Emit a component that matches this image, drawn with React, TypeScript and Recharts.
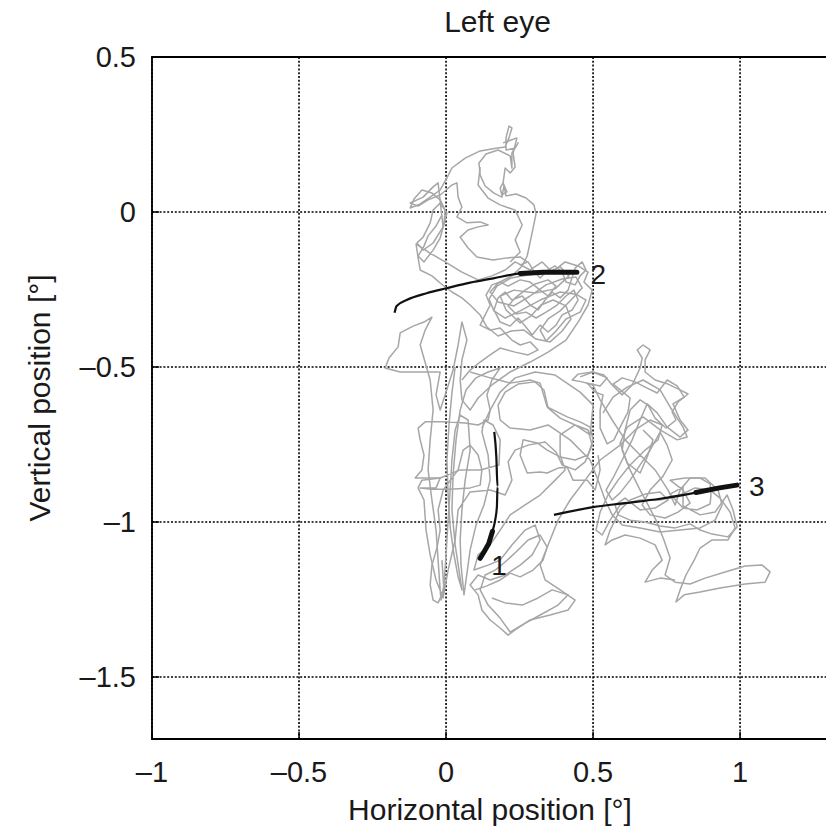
import React from 'react';
import {
  ComposedChart,
  Line,
  Scatter,
  XAxis,
  YAxis,
  CartesianGrid,
  ReferenceArea,
} from 'recharts';

// Axis setup (degrees)
const xTicks = [-1, -0.5, 0, 0.5, 1];
const yTicks = [-1.5, -1, -0.5, 0, 0.5];
const xDomain: [number, number] = [-1, 1.35];
const yDomain: [number, number] = [-1.7, 0.5];

// Fixational drift of the left eye, [horizontal, vertical] in degrees.
// Main recording trace
const driftMain: [number, number][] = [
  [-0.014, -0.01], [-0.034, -0.045], [-0.061, -0.077], [-0.075, -0.11], [-0.095, -0.142],
  [-0.075, -0.161], [-0.044, -0.123], [-0.02, -0.084], [-0.007, -0.039], [-0.003, 0.006],
  [-0.02, 0.039], [-0.048, 0.061], [-0.082, 0.071], [-0.109, 0.042], [-0.122, 0.013],
  [-0.088, 0.026], [-0.054, 0.048], [-0.02, 0.071], [0.003, 0.11], [0.02, 0.142],
  [0.065, 0.174], [0.116, 0.197], [0.17, 0.206], [0.201, 0.21], [0.214, 0.239],
  [0.224, 0.271], [0.214, 0.277], [0.204, 0.239], [0.204, 0.2], [0.235, 0.206],
  [0.245, 0.223], [0.224, 0.19], [0.224, 0.142], [0.218, 0.181], [0.177, 0.2],
  [0.136, 0.187], [0.112, 0.158], [0.116, 0.119], [0.133, 0.084], [0.163, 0.061],
  [0.19, 0.048], [0.197, 0.084], [0.204, 0.052], [0.238, 0.058], [0.272, 0.045],
  [0.299, 0.023], [0.306, -0.006], [0.296, -0.052], [0.286, -0.097], [0.276, -0.142],
  [0.259, -0.174], [0.224, -0.206], [0.177, -0.229], [0.15, -0.258], [0.177, -0.29],
  [0.231, -0.303], [0.286, -0.271], [0.34, -0.235], [0.395, -0.216], [0.442, -0.21],
  [0.463, -0.245], [0.425, -0.284], [0.388, -0.319], [0.347, -0.345], [0.32, -0.381],
  [0.34, -0.416], [0.374, -0.384], [0.408, -0.345], [0.456, -0.323], [0.476, -0.284],
  [0.442, -0.265], [0.388, -0.258], [0.32, -0.284], [0.252, -0.319], [0.201, -0.342],
  [0.163, -0.319], [0.146, -0.281], [0.173, -0.239], [0.221, -0.213], [0.279, -0.203],
  [0.337, -0.197], [0.388, -0.177], [0.418, -0.206], [0.371, -0.248], [0.303, -0.261],
  [0.231, -0.252], [0.184, -0.271], [0.204, -0.316], [0.252, -0.358], [0.289, -0.335],
  [0.323, -0.3], [0.364, -0.284], [0.408, -0.303], [0.425, -0.345], [0.395, -0.384],
  [0.354, -0.419], [0.306, -0.41], [0.265, -0.381], [0.221, -0.384], [0.177, -0.4],
  [0.139, -0.371], [0.116, -0.332], [0.082, -0.3], [0.054, -0.277], [0.02, -0.258],
  [-0.02, -0.229], [-0.048, -0.206], [-0.088, -0.187], [-0.095, -0.148], [-0.102, -0.103],
  [-0.061, -0.129], [-0.003, -0.161], [0.054, -0.194], [0.109, -0.219], [0.156, -0.206],
  [0.201, -0.187], [0.235, -0.161], [0.286, -0.187], [0.327, -0.161], [0.361, -0.194],
  [0.405, -0.161], [0.449, -0.174], [0.483, -0.194], [0.469, -0.226], [0.497, -0.252],
  [0.483, -0.3], [0.449, -0.355], [0.408, -0.413], [0.347, -0.452], [0.286, -0.484],
  [0.218, -0.516], [0.156, -0.558], [0.109, -0.6], [0.082, -0.639], [0.054, -0.606],
  [0.048, -0.542], [0.054, -0.477], [0.071, -0.413], [0.054, -0.355], [0.041, -0.429],
  [0.024, -0.51], [0.0, -0.581], [-0.02, -0.639], [-0.034, -0.59], [-0.02, -0.516],
  [-0.088, -0.516], [-0.156, -0.516], [-0.207, -0.503], [-0.194, -0.471], [-0.163, -0.435],
  [-0.156, -0.39], [-0.112, -0.368], [-0.075, -0.355], [-0.048, -0.339], [-0.071, -0.381],
  [-0.088, -0.429], [-0.054, -0.542], [-0.044, -0.639], [-0.054, -0.735], [-0.061, -0.832],
  [-0.048, -0.929], [-0.034, -1.026], [-0.027, -1.123], [-0.02, -1.219], [-0.017, -1.252],
  [-0.007, -1.203], [0.0, -1.106], [0.007, -0.994], [0.014, -0.897], [0.02, -0.8],
  [0.031, -0.703], [0.048, -0.655], [0.075, -0.671], [0.082, -0.768], [0.065, -0.865],
  [0.054, -0.961], [0.048, -1.058], [0.051, -1.139], [0.061, -1.235], [0.068, -1.187],
  [0.082, -1.09], [0.102, -1.01], [0.129, -0.945], [0.15, -0.865], [0.143, -0.784],
  [0.122, -0.71], [0.129, -0.671], [0.16, -0.687], [0.184, -0.735], [0.18, -0.816],
  [0.116, -0.832], [0.048, -0.832], [-0.02, -0.858], [-0.082, -0.865], [-0.095, -0.89],
  [-0.075, -0.929], [-0.068, -1.026], [-0.054, -1.106], [-0.034, -1.187], [-0.01, -1.245],
  [0.007, -1.155], [0.031, -1.058], [0.041, -0.961], [0.082, -0.903], [0.15, -0.897],
  [0.201, -0.913], [0.224, -0.865], [0.211, -0.806], [0.235, -0.768], [0.279, -0.752],
  [0.337, -0.742], [0.374, -0.774], [0.395, -0.816], [0.439, -0.832], [0.473, -0.806],
  [0.497, -0.752], [0.483, -0.703], [0.439, -0.687], [0.388, -0.665], [0.347, -0.632],
  [0.333, -0.574], [0.303, -0.548], [0.245, -0.555], [0.201, -0.581], [0.177, -0.623],
  [0.184, -0.671], [0.218, -0.697], [0.286, -0.703], [0.347, -0.687], [0.422, -0.735],
  [0.49, -0.8], [0.517, -0.865], [0.541, -0.929], [0.565, -0.977], [0.599, -1.01],
  [0.66, -1.019], [0.728, -1.032], [0.796, -1.026], [0.864, -1.019], [0.915, -0.994],
  [0.939, -0.945], [0.925, -0.897], [0.881, -0.858], [0.83, -0.858], [0.796, -0.897],
  [0.779, -0.945], [0.755, -0.897], [0.711, -0.832], [0.66, -0.784], [0.609, -0.735],
  [0.565, -0.671], [0.524, -0.606], [0.5, -0.558], [0.463, -0.548], [0.429, -0.542],
  [0.449, -0.523], [0.497, -0.516], [0.537, -0.526], [0.565, -0.558], [0.599, -0.59],
  [0.633, -0.558], [0.66, -0.503], [0.667, -0.471], [0.65, -0.445], [0.67, -0.429],
  [0.694, -0.445], [0.677, -0.477], [0.677, -0.516], [0.711, -0.542], [0.755, -0.555],
  [0.796, -0.574], [0.823, -0.587], [0.789, -0.613], [0.769, -0.645], [0.782, -0.671],
  [0.748, -0.697], [0.711, -0.665], [0.687, -0.623], [0.66, -0.606], [0.626, -0.639],
  [0.609, -0.703], [0.599, -0.768], [0.626, -0.832], [0.66, -0.897], [0.687, -0.945],
  [0.714, -0.994], [0.741, -1.058], [0.762, -1.116], [0.745, -1.171], [0.779, -1.194],
  [0.83, -1.2], [0.881, -1.181], [0.949, -1.161], [1.017, -1.142], [1.075, -1.139],
  [1.102, -1.161], [1.085, -1.194], [1.017, -1.2], [0.932, -1.213], [0.864, -1.226],
  [0.81, -1.235], [0.782, -1.258], [0.796, -1.219], [0.816, -1.171], [0.844, -1.123],
  [0.864, -1.084], [0.905, -1.058], [0.959, -1.058], [0.983, -1.019], [0.966, -0.968],
  [0.932, -0.923], [0.898, -0.897], [0.847, -0.89], [0.796, -0.913], [0.728, -0.929],
  [0.66, -0.929], [0.592, -0.945], [0.558, -0.994], [0.531, -1.042], [0.51, -1.026],
  [0.524, -0.968], [0.551, -0.913], [0.585, -0.865], [0.626, -0.816], [0.677, -0.768],
  [0.721, -0.735], [0.735, -0.687], [0.694, -0.671], [0.643, -0.703], [0.592, -0.752],
  [0.524, -0.8], [0.473, -0.865], [0.422, -0.929], [0.381, -0.994], [0.347, -1.074],
  [0.32, -1.139], [0.337, -1.187], [0.388, -1.219], [0.439, -1.252], [0.415, -1.284],
  [0.354, -1.3], [0.286, -1.316], [0.235, -1.348], [0.211, -1.365], [0.184, -1.342],
  [0.15, -1.316], [0.122, -1.284], [0.109, -1.235], [0.082, -1.203], [0.109, -1.171],
  [0.15, -1.187], [0.201, -1.171], [0.252, -1.139], [0.293, -1.106], [0.32, -1.058],
  [0.303, -1.01], [0.269, -1.026], [0.224, -1.074], [0.184, -1.123], [0.143, -1.139],
  [0.095, -1.155], [0.109, -1.106], [0.15, -1.074], [0.184, -1.026], [0.218, -0.977],
  [0.269, -0.945], [0.32, -0.913], [0.371, -0.865], [0.405, -0.832], [0.388, -0.784],
  [0.388, -0.719], [0.439, -0.687], [0.49, -0.719], [0.5, -0.623], [0.456, -0.581],
  [0.371, -0.526], [0.303, -0.516], [0.235, -0.535], [0.184, -0.581], [0.15, -0.639],
  [0.122, -0.697],
];

// Long left-hand vertical strands
const driftLeft: [number, number][] = [
  [0.031, -0.5], [0.02, -0.584], [0.01, -0.687], [0.003, -0.8], [0.007, -0.913],
  [0.014, -1.016], [0.027, -1.106], [0.041, -1.177], [0.054, -1.219], [0.044, -1.155],
  [0.031, -1.074], [0.02, -0.961], [0.024, -0.848], [0.034, -0.735], [0.048, -0.639],
  [0.068, -0.574], [0.102, -0.535], [0.143, -0.516], [0.184, -0.503], [0.156, -0.542],
  [0.139, -0.59], [0.15, -0.639], [0.143, -0.671], [0.109, -0.687], [0.065, -0.681],
  [-0.003, -0.677], [-0.071, -0.677], [-0.095, -0.697], [-0.088, -0.735], [-0.075, -0.784],
  [-0.082, -0.832], [-0.105, -0.858], [-0.061, -0.858], [-0.02, -0.858], [-0.034, -0.89],
  [-0.088, -0.89], [-0.048, -0.894], [0.014, -0.894], [0.082, -0.89], [0.116, -0.881],
  [0.122, -0.832], [0.109, -0.784], [0.082, -0.752], [0.058, -0.768], [0.041, -0.832],
  [-0.01, -0.897], [-0.027, -0.961], [-0.02, -1.026], [-0.031, -1.084], [-0.048, -1.139],
  [-0.054, -1.203], [-0.044, -1.252], [-0.027, -1.261], [-0.007, -1.219], [-0.014, -1.123],
];

// Dense wandering near the end of saccade 2
const driftCluster: [number, number][] = [
  [0.252, -0.171], [0.279, -0.161], [0.296, -0.187], [0.32, -0.213], [0.347, -0.187],
  [0.371, -0.174], [0.395, -0.194], [0.408, -0.226], [0.439, -0.235], [0.456, -0.206],
  [0.476, -0.187], [0.463, -0.161], [0.439, -0.181], [0.415, -0.252], [0.388, -0.277],
  [0.361, -0.258], [0.337, -0.284], [0.313, -0.316], [0.286, -0.3], [0.259, -0.271],
  [0.224, -0.284], [0.201, -0.258], [0.177, -0.277], [0.163, -0.316], [0.184, -0.355],
  [0.218, -0.368], [0.245, -0.342], [0.269, -0.368], [0.293, -0.397], [0.32, -0.365],
  [0.347, -0.387], [0.374, -0.365], [0.395, -0.332], [0.429, -0.316], [0.449, -0.284],
  [0.435, -0.252], [0.408, -0.271], [0.374, -0.303], [0.34, -0.323], [0.306, -0.342],
  [0.272, -0.323], [0.238, -0.329], [0.211, -0.303], [0.235, -0.277], [0.269, -0.252],
  [0.303, -0.232], [0.347, -0.219], [0.374, -0.239], [0.347, -0.271], [0.32, -0.252],
  [0.286, -0.226], [0.252, -0.219], [0.211, -0.239], [0.184, -0.226], [0.156, -0.235],
  [0.136, -0.268], [0.15, -0.3], [0.133, -0.332], [0.116, -0.365], [0.15, -0.381],
  [0.184, -0.374], [0.224, -0.413], [0.252, -0.429], [0.286, -0.419], [0.313, -0.445],
  [0.279, -0.461], [0.235, -0.452], [0.184, -0.439], [0.15, -0.461], [0.116, -0.484],
  [0.082, -0.51], [0.054, -0.542],
];

// Right-hand loops around the end of saccade 3
const driftRight: [number, number][] = [
  [0.456, -0.532], [0.5, -0.516], [0.548, -0.535], [0.524, -0.561], [0.48, -0.552],
  [0.507, -0.581], [0.534, -0.59], [0.524, -0.639], [0.524, -0.697], [0.548, -0.748],
  [0.571, -0.735], [0.592, -0.694], [0.619, -0.645], [0.626, -0.6], [0.602, -0.581],
  [0.568, -0.555], [0.599, -0.535], [0.643, -0.548], [0.684, -0.568], [0.718, -0.584],
  [0.752, -0.542], [0.786, -0.561], [0.81, -0.597], [0.772, -0.619], [0.796, -0.671],
  [0.823, -0.703], [0.796, -0.726], [0.752, -0.694], [0.718, -0.648], [0.684, -0.619],
  [0.66, -0.671], [0.633, -0.735], [0.599, -0.8], [0.568, -0.858], [0.544, -0.897],
  [0.565, -0.929], [0.592, -0.906], [0.626, -0.865], [0.66, -0.816], [0.694, -0.768],
  [0.728, -0.71], [0.752, -0.752], [0.769, -0.8], [0.738, -0.852], [0.694, -0.897],
  [0.667, -0.945], [0.694, -0.977], [0.745, -0.987], [0.789, -0.968], [0.83, -0.939],
  [0.806, -0.897], [0.762, -0.865], [0.813, -0.858], [0.864, -0.858], [0.898, -0.877],
  [0.901, -0.913], [0.898, -0.942], [0.854, -0.961], [0.806, -0.955], [0.762, -0.91],
  [0.806, -0.887], [0.806, -0.948], [0.864, -0.977], [0.915, -0.968], [0.956, -0.913],
  [0.976, -0.961], [0.99, -1.016], [0.959, -1.048], [0.905, -1.039], [0.864, -1.026],
  [0.83, -1.006], [0.779, -1.019], [0.728, -1.013], [0.677, -1.0], [0.626, -0.994],
  [0.585, -0.977], [0.575, -0.945], [0.609, -0.923], [0.66, -0.961], [0.711, -0.955],
  [0.755, -0.929], [0.728, -0.903], [0.677, -0.91], [0.626, -0.929], [0.592, -0.961],
  [0.558, -1.026], [0.541, -1.074], [0.565, -1.058], [0.609, -1.042], [0.66, -1.052],
  [0.711, -1.074], [0.735, -1.123], [0.701, -1.155], [0.677, -1.194], [0.728, -1.181],
  [0.779, -1.187],
];

// Upper loops of the right-hand cluster
const driftRightUpper: [number, number][] = [
  [0.534, -0.648], [0.568, -0.597], [0.616, -0.565], [0.67, -0.542], [0.728, -0.574],
  [0.762, -0.629], [0.806, -0.694], [0.82, -0.726], [0.786, -0.735], [0.728, -0.703],
  [0.67, -0.661], [0.616, -0.694], [0.592, -0.745], [0.616, -0.81], [0.66, -0.842],
  [0.684, -0.79], [0.704, -0.735], [0.67, -0.703],
];

// Upper excursion, left of the top spike
const driftTop: [number, number][] = [
  [-0.01, -0.048], [0.003, -0.003], [-0.02, 0.029], [-0.044, 0.006], [-0.054, -0.035],
  [-0.078, -0.081], [-0.099, -0.1], [-0.078, -0.123], [-0.044, -0.1], [-0.01, -0.048],
  [-0.027, 0.094], [-0.044, 0.081], [-0.078, 0.048], [-0.122, 0.029], [-0.095, 0.019],
  [-0.061, 0.039], [-0.02, 0.055], [0.02, 0.087], [0.037, 0.094], [0.041, 0.048],
  [0.054, 0.016], [0.037, -0.016], [0.071, -0.035], [0.116, -0.032], [0.143, -0.042],
  [0.109, -0.048], [0.075, -0.058], [0.048, -0.081], [0.075, -0.116], [0.105, -0.145],
  [0.16, -0.155], [0.207, -0.148], [0.252, -0.145], [0.276, -0.161],
];

// Small loops below the top spike
const driftSpike: [number, number][] = [
  [0.194, 0.223], [0.241, 0.239], [0.228, 0.19], [0.235, 0.145], [0.218, 0.126],
  [0.201, 0.142], [0.194, 0.094], [0.207, 0.065], [0.19, 0.055], [0.184, 0.077],
  [0.194, 0.094],
];

// Return path from the top down into the cluster
const driftDescent: [number, number][] = [
  [0.116, 0.145], [0.109, 0.087], [0.143, 0.045], [0.184, 0.023], [0.235, 0.006],
  [0.259, -0.042], [0.235, -0.09], [0.252, -0.129], [0.218, -0.161],
];

// Middle band between the two clusters
const driftMiddle: [number, number][] = [
  [0.082, -0.516], [0.15, -0.535], [0.218, -0.552], [0.286, -0.542], [0.32, -0.552],
  [0.344, -0.629], [0.378, -0.645], [0.412, -0.661], [0.456, -0.677], [0.49, -0.694],
  [0.5, -0.735], [0.483, -0.784], [0.439, -0.8], [0.388, -0.79], [0.344, -0.768],
  [0.31, -0.745], [0.262, -0.735], [0.252, -0.784], [0.276, -0.842], [0.32, -0.839],
  [0.344, -0.842], [0.381, -0.826], [0.412, -0.823], [0.432, -0.865], [0.48, -0.865],
  [0.507, -0.897], [0.524, -0.832], [0.517, -0.784],
];

// Lower loops below saccade 1
const driftBottom: [number, number][] = [
  [0.099, -1.219], [0.139, -1.206], [0.184, -1.187], [0.218, -1.165], [0.252, -1.177],
  [0.296, -1.155], [0.33, -1.123], [0.344, -1.081], [0.32, -1.042], [0.279, -1.058],
  [0.238, -1.097], [0.201, -1.129], [0.167, -1.155], [0.133, -1.171], [0.116, -1.219],
  [0.143, -1.268], [0.184, -1.31], [0.218, -1.355], [0.259, -1.332], [0.32, -1.3],
  [0.381, -1.268], [0.415, -1.235], [0.361, -1.219], [0.313, -1.245], [0.259, -1.268],
  [0.201, -1.261], [0.156, -1.245],
];

const driftSegments = [
  driftMain, driftLeft, driftCluster, driftRight, driftRightUpper,
  driftTop, driftSpike, driftDescent, driftMiddle, driftBottom,
];

// Saccades (black), the last points drawn heavier
const saccade1: [number, number][] = [
  [0.164, -0.709], [0.171, -0.79], [0.175, -0.886], [0.173, -0.95], [0.167, -0.994],
  [0.158, -1.03], [0.145, -1.07], [0.13, -1.095], [0.116, -1.117],
];
const saccade2: [number, number][] = [
  [-0.175, -0.325], [-0.168, -0.303], [-0.134, -0.284], [-0.066, -0.262], [0.002, -0.246],
  [0.082, -0.228], [0.161, -0.214], [0.252, -0.198], [0.331, -0.194], [0.445, -0.194],
];
const saccade3: [number, number][] = [
  [0.367, -0.977], [0.5, -0.952], [0.6, -0.94], [0.728, -0.925], [0.85, -0.905],
  [0.93, -0.89], [0.989, -0.881],
];
const heavyFrom = [5, 7, 4];

const saccadeNames = ['1', '2', '3'];
const labelX = [0.18, 0.518, 1.057];
const labelY = [-1.14, -0.203, -0.886];

const toPoints = (arr: [number, number][]) => arr.map(([x, y]) => ({ x, y }));

const saccades = [saccade1, saccade2, saccade3];
const labelData = saccadeNames.map((name, i) => ({ x: labelX[i], y: labelY[i], name }));

const FONT = '"Liberation Sans", Arial, Helvetica, sans-serif';
const TEXT = '#1a1a1a';

const fmt = (v: number) => String(v).replace('-', '\u2013');

const NumberLabel = (props: any) => {
  const { cx, cy, payload } = props;
  return (
    <text
      x={cx}
      y={cy}
      textAnchor="middle"
      dominantBaseline="central"
      fontSize={28}
      fontFamily={FONT}
      fill={TEXT}
    >
      {payload.name}
    </text>
  );
};

export default function App() {
  return (
    <div
      style={{
        position: 'absolute',
        left: 0,
        top: 0,
        width: 826,
        height: 832,
        overflow: 'hidden',
        background: '#fff',
        fontFamily: FONT,
        color: TEXT,
      }}
    >
      <div
        style={{
          position: 'absolute',
          left: 152,
          width: 691,
          top: 7,
          lineHeight: '30px',
          fontSize: 30,
          textAlign: 'center',
        }}
      >
        Left eye
      </div>
      <div
        style={{
          position: 'absolute',
          left: 152,
          width: 676,
          top: 795,
          lineHeight: '30px',
          fontSize: 30,
          textAlign: 'center',
        }}
      >
        Horizontal position [°]
      </div>
      <div
        style={{
          position: 'absolute',
          left: 40 - 200,
          top: 398 - 15,
          width: 400,
          lineHeight: '30px',
          fontSize: 30,
          textAlign: 'center',
          transform: 'rotate(-90deg)',
        }}
      >
        Vertical position [°]
      </div>

      <div style={{ position: 'absolute', left: 0, top: 0 }}>
        <ComposedChart
          width={850}
          height={832}
          margin={{ top: 57, right: 7, bottom: 33, left: 0 }}
        >
          <CartesianGrid stroke="#000" strokeWidth={1.6} strokeDasharray="2 1.8" />
          <XAxis
            dataKey="x"
            type="number"
            domain={xDomain}
            ticks={xTicks}
            allowDataOverflow
            height={60}
            axisLine={false}
            tickSize={-7}
            tickMargin={29}
            tickLine={{ stroke: '#000', strokeWidth: 1.5 }}
            tickFormatter={fmt}
            tick={{ fontSize: 29, fontFamily: FONT, fill: TEXT }}
          />
          <XAxis
            xAxisId="top"
            orientation="top"
            dataKey="x"
            type="number"
            domain={xDomain}
            ticks={xTicks}
            allowDataOverflow
            height={0}
            axisLine={false}
            tickSize={-7}
            tickLine={{ stroke: '#000', strokeWidth: 1.5 }}
            tickFormatter={() => ''}
          />
          <YAxis
            dataKey="y"
            type="number"
            domain={yDomain}
            ticks={yTicks}
            allowDataOverflow
            width={152}
            axisLine={false}
            tickSize={-7}
            tickMargin={23}
            tickLine={{ stroke: '#000', strokeWidth: 1.5 }}
            tickFormatter={fmt}
            tick={{ fontSize: 29, fontFamily: FONT, fill: TEXT }}
          />

          {driftSegments.map((seg, i) => (
            <Line
              key={`d${i}`}
              data={toPoints(seg)}
              dataKey="y"
              type="linear"
              stroke="#a6a6a6"
              strokeWidth={1.5}
              strokeLinejoin="round"
              dot={false}
              activeDot={false}
              isAnimationActive={false}
            />
          ))}

          {saccades.map((s, i) => (
            <Line
              key={`s${i}`}
              data={toPoints(s)}
              dataKey="y"
              type="monotone"
              stroke="#111"
              strokeWidth={2.2}
              dot={false}
              activeDot={false}
              isAnimationActive={false}
            />
          ))}
          {saccades.map((s, i) => (
            <Line
              key={`h${i}`}
              data={toPoints(s.slice(heavyFrom[i]))}
              dataKey="y"
              type="linear"
              stroke="#111"
              strokeWidth={5}
              strokeLinecap="round"
              dot={false}
              activeDot={false}
              isAnimationActive={false}
            />
          ))}

          <Scatter
            data={labelData}
            dataKey="y"
            shape={<NumberLabel />}
            isAnimationActive={false}
          />

          <ReferenceArea
            x1={xDomain[0]}
            x2={xDomain[1]}
            y1={yDomain[0]}
            y2={yDomain[1]}
            fill="none"
            fillOpacity={0}
            stroke="#000"
            strokeWidth={1.8}
            ifOverflow="visible"
          />
        </ComposedChart>
      </div>
    </div>
  );
}
